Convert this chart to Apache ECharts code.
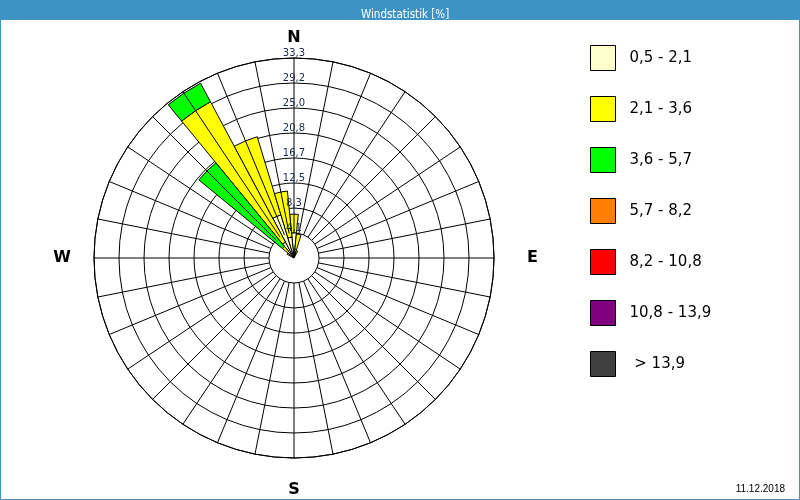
<!DOCTYPE html>
<html><head><meta charset="utf-8">
<script src="https://cdn.jsdelivr.net/npm/echarts@6/dist/echarts.min.js"></script>
<style>html,body{margin:0;padding:0;background:#fff}#c{width:800px;height:500px}</style>
</head><body><div id="c"></div>
<script>
// 32 directions, clockwise from North, 11.25 degrees apart (index 0 = N)
const directions = ['N','NbE','NNE','NEbN','NE','NEbE','ENE','EbN','E','EbS','ESE','SEbE','SE','SEbS','SSE','SbE',
                    'S','SbW','SSW','SWbS','SW','SWbW','WSW','WbS','W','WbN','WNW','NWbW','NW','NWbN','NNW','NbW'];
const legendNames = ['0,5 - 2,1','2,1 - 3,6','3,6 - 5,7','5,7 - 8,2','8,2 - 10,8','10,8 - 13,9',' > 13,9'];
const colors = ['#FFFFCC','#FFFF00','#00FF00','#FF8000','#FF0000','#800080','#404040'];
// percent per direction for each speed class
const s1 = [4.2,1.5,0.5,0,0,0,0,0,0,0,0,0,0,0,0,0,0,0,0,0,0,0,0,0,0,0,0,0.5,1.0,3.0,7.5,3.5];
const s2 = [3.1,2.5,0.8,0,0,0,0,0,0,0,0,0,0,0,0,0,0,0,0,0,0,0,0,0,0,0,0,0.8,1.5,26.5,13.6,7.7];
const s3 = [0,0,0,0,0,0,0,0,0,0,0,0,0,0,0,0,0,0,0,0,0,0,0,0,0,0,0,0,18.0,3.5,0,0];
const s4 = new Array(32).fill(0);
const s5 = new Array(32).fill(0);
const s6 = new Array(32).fill(0);
const s7 = new Array(32).fill(0);
const radiusMax = 33.3;
const radiusStep = radiusMax / 8;
const radiusTickLabels = ['', '4,1', '8,3', '12,5', '16,7', '20,8', '25,0', '29,2', '33,3'];
const compass = {0:'{n|N}', 90:'{e|E}', 180:'{s|S}', 270:'{w|W}'};

const chart = echarts.init(document.getElementById('c'), null, {renderer:'canvas'});
const seriesData = [s1,s2,s3,s4,s5,s6,s7];
const CX = 294, CY = 258, R = 200, R0 = 25;
const sectorDeg = 360 / directions.length;
const series = seriesData.map((d, i) => ({
  name: legendNames[i], type: 'bar', coordinateSystem: 'polar', polarIndex: 0,
  stack: 'w', data: d.map(v => (v > 0 ? v : null)), barCategoryGap: '0%', z: 2, silent: true,
  itemStyle: {color: colors[i], borderColor: '#000', borderWidth: 1}
}));
const labelFont = {fontSize: 16, fontWeight: 'bold', color: '#000', fontFamily: 'DejaVu Sans'};
chart.setOption({
  animation: false,
  backgroundColor: '#fff',
  title: [
    {text: 'Windstatistik [%]', left: 356, top: 4,
     textStyle: {color: '#fff', fontSize: 11.5, fontWeight: 'normal', fontFamily: 'DejaVu Sans Condensed, DejaVu Sans'}},
    {text: '11.12.2018', right: 10, bottom: 1,
     textStyle: {color: '#000', fontSize: 10, fontWeight: 'normal', fontFamily: 'Liberation Sans'}}
  ],
  graphic: [
    {type: 'rect', z: 0, shape: {x: 0, y: 0, width: 800, height: 20}, style: {fill: '#3D93C4'}},
    {type: 'rect', z: 0, shape: {x: 0.5, y: 0.5, width: 799, height: 499}, style: {fill: null, stroke: '#3D93C4', lineWidth: 1}}
  ],
  legend: {
    orient: 'vertical', left: 585, top: 40, itemWidth: 25, itemHeight: 25, itemGap: 25, icon: 'rect',
    data: legendNames, selectedMode: false,
    textStyle: {fontSize: 15, color: '#000', fontFamily: 'DejaVu Sans', padding: [0,0,0,9]},
    itemStyle: {borderColor: '#000', borderWidth: 1}
  },
  polar: [
    {center: [CX, CY], radius: [0, R]},
    {center: [CX, CY], radius: [R0, R]}
  ],
  angleAxis: [
    {polarIndex: 0, type: 'category', data: directions, startAngle: 90 + sectorDeg / 2, clockwise: true, boundaryGap: true, z: 0,
     axisLine: {show: true, lineStyle: {color: '#000', width: 1}},
     axisTick: {show: false}, axisLabel: {show: false}, splitLine: {show: false}},
    {polarIndex: 1, type: 'value', min: 0, max: 360, interval: sectorDeg, startAngle: 90, clockwise: true, z: 5,
     axisLine: {show: false}, axisTick: {show: false},
     splitLine: {show: true, lineStyle: {color: '#000', width: 1}},
     axisLabel: {show: true, margin: 12, ...labelFont,
       formatter: v => (v >= 360 ? '' : compass[v] || ''),
       rich: {n: labelFont, e: {...labelFont, padding: [0,0,0,21]}, s: {...labelFont, padding: [12,0,0,0]}, w: {...labelFont, padding: [0,11,0,0]}}}}
  ],
  radiusAxis: [
    {polarIndex: 0, type: 'value', min: 0, max: radiusMax, interval: radiusStep, z: 0,
     axisLine: {show: false}, axisTick: {show: false}, axisLabel: {show: false},
     splitLine: {show: true, lineStyle: {color: '#000', width: 1}}},
    {polarIndex: 1, type: 'value', min: radiusStep, max: radiusMax, interval: radiusStep, z: 6,
     axisLine: {show: false}, axisTick: {show: false}, splitLine: {show: false},
     axisLabel: {show: true, margin: 0, align: 'center', verticalAlign: 'bottom', fontSize: 10, color: '#1a2a4a', fontFamily: 'DejaVu Sans',
       formatter: (v) => radiusTickLabels[Math.round(v / radiusStep)] || ''}}
  ],
  series: series
});
</script></body></html>
